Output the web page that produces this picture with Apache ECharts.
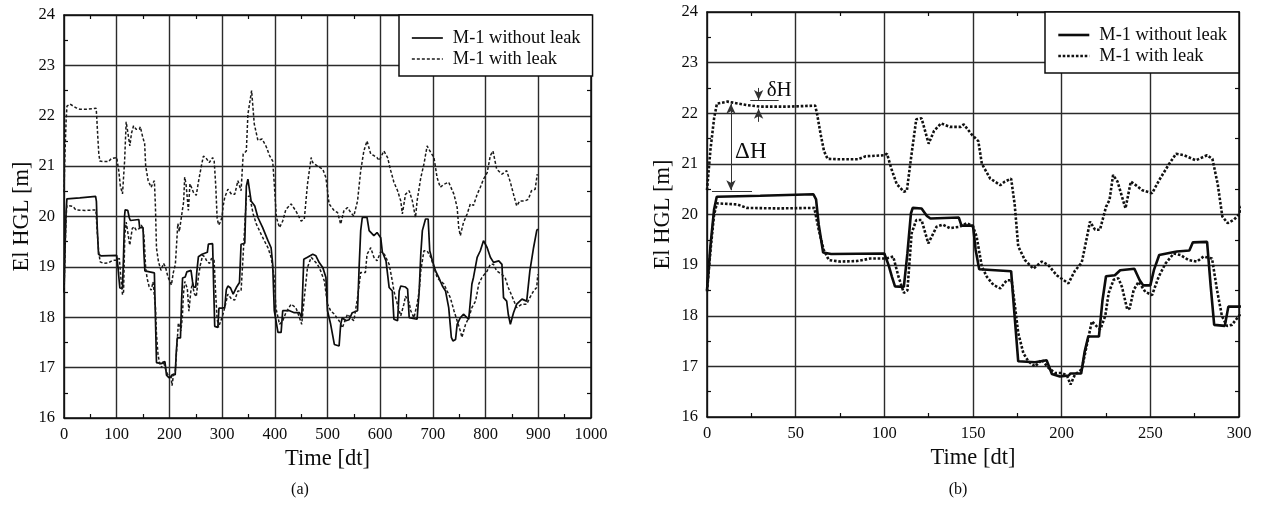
<!DOCTYPE html>
<html><head><meta charset="utf-8">
<script src="https://cdn.jsdelivr.net/npm/echarts@6/dist/echarts.min.js"></script>
<style>html,body{margin:0;padding:0;background:#fff}#c{width:1264px;height:506px}</style>
</head><body><div id="c"></div>
<script>
// ---- tick labels ----
const yTicks = [16, 17, 18, 19, 20, 21, 22, 23, 24];
const xTicksA = [0, 100, 200, 300, 400, 500, 600, 700, 800, 900, 1000];
const xTicksB = [0, 50, 100, 150, 200, 250, 300];
const seriesNames = ['M-1 without leak', 'M-1 with leak'];
const panelLabels = ['(a)', '(b)'];

// ---- M-1 without leak (solid) ----
const noLeakT = [0,2,4,5.5,30,60,61.5,63,65.5,70,100,102.4,104.3,106,111,113,115,116,121,124,126,142,143.5,150,151.5,153.5,171.5,173,175.5,185,191.5,194.5,199,204,205,211,213,215,221,223,225,230,233,241,244,246,250,252,255,262,265,272,274,282,284,286,292,294,300,
305,308,311,316,321,327,333,336,343,346,349,352,355,362,368,377,387,393,396,399,406,412,415,421,428,437,447,451,455,462,472,478,484,491,497,500,506,513,522,525,528,535,541,547,557,560,563,566,575,579,588,594,601,604,611,617,623,626,633,636,639,648,652,655,670,674,677,680,686,691,694,699,705,711,718,724,730,735,738,743,746,752,758,768,771,774,777,784,790,796,803,809,815,825,831,834,840,843,847,850,853,859,869,878,884,891,897,899];
const noLeakV = [18.5,19.4,20.1,20.35,20.37,20.4,20.3,19.8,19.25,19.22,19.23,19.0,18.77,18.58,18.57,19.23,20.02,20.13,20.12,19.97,19.92,19.94,19.78,19.78,19.3,18.92,18.88,18.2,17.1,17.08,17.12,16.85,16.8,16.82,16.86,16.86,17.3,17.59,17.59,18.3,18.78,18.8,18.9,18.93,18.7,18.6,18.6,18.9,19.2,19.25,19.27,19.29,19.45,19.46,18.6,17.82,17.8,18.18,18.18,
18.19,18.55,18.62,18.58,18.46,18.59,18.69,19.45,19.47,20.6,20.74,20.74,20.31,20.21,19.98,19.78,19.52,19.38,19.05,18.13,17.7,17.7,18.13,18.13,18.13,18.09,18.09,17.99,19.15,19.19,19.25,19.22,19.09,18.99,18.79,18.13,17.86,17.46,17.43,17.86,17.99,17.93,17.95,18.09,18.13,18.99,19.72,19.98,19.98,19.72,19.62,19.68,19.58,19.3,19.12,18.59,18.52,17.96,17.93,18.52,18.62,18.6,18.56,17.99,17.96,18.52,19.25,19.72,19.95,19.95,19.32,19.12,18.92,18.79,18.62,18.52,18.19,17.6,17.53,17.56,17.86,17.99,18.06,17.96,17.95,18.66,18.79,19.19,19.32,19.52,19.38,19.19,19.09,19.12,19.05,18.39,18.32,18.06,17.86,17.86,18.09,18.26,18.36,18.32,18.92,19.38,19.72,19.75];

// ---- M-1 with leak, lower curve (dotted) ----
const leakLowT = [0,2,4,5.6,17,22.5,40,60.5,63,65.8,68.7,75,84.5,92,101,105,108,111,113,115.4,118,121,124.8,129.5,133,137,142.7,146.5,150,152,155,157.8,161.5,165.4,169,171.8,173.7,175.5,178.4,181.2,185,188.8,192.6,196.3,200,203,205,207.5,211.3,214,217,219.8,221.8,224.6,226.5,229.3,232,234,237,238.4,240.6,243.4,247.2,251,254.7,258.5,263.2,267,271.6,276.3,280,284.8,287.6,290.4,293.2,296,300,
305,311,318,324,330,336,340,346,352,359,365,374,380,387,393,399,402,409,415,421,431,440,447,451,456,462,469,475,481,487,494,500,506,513,522,528,538,544,550,557,563,572,575,582,588,594,601,608,611,617,623,626,636,639,645,648,655,658,664,670,674,677,683,689,696,702,708,714,721,727,733,740,746,752,755,762,768,774,781,787,793,803,809,815,821,831,837,843,850,859,869,878,884,891,897,899];
const leakLowV = [18.48,19.3,20.0,20.22,20.2,20.13,20.12,20.13,19.7,19.3,19.1,19.07,19.08,19.13,19.13,19.17,18.77,18.45,18.5,19.63,19.89,19.89,19.43,19.76,19.8,19.73,19.76,19.83,19.76,19.57,18.97,18.77,18.61,18.54,18.7,18.7,18.18,17.66,17.26,17.1,17.0,17.13,16.97,16.87,16.87,16.82,16.64,16.84,16.94,17.39,17.89,17.79,17.73,18.0,18.45,18.71,18.74,18.57,18.12,18.15,18.51,18.67,18.47,18.41,18.77,19.03,19.23,19.2,19.1,19.07,19.17,19.13,18.51,17.99,17.8,17.82,18.0,
18.19,18.46,18.36,18.34,18.52,18.52,19.25,20.38,20.41,20.05,19.85,19.65,19.52,19.38,19.19,18.79,18.19,17.86,17.93,18.09,18.26,18.19,17.99,17.86,18.39,18.99,19.19,19.12,19.05,18.92,18.72,18.26,18.13,18.06,17.93,17.79,18.06,17.99,17.93,18.39,18.89,18.89,19.25,19.38,19.19,19.12,19.3,19.25,19.25,19.05,18.72,18.52,18.13,18.03,18.26,18.42,18.29,18.13,17.99,18.26,18.52,18.92,19.32,19.32,19.19,18.99,18.79,18.72,18.66,18.52,18.39,18.13,17.93,17.73,17.6,17.86,17.99,18.19,18.32,18.66,18.79,18.92,19.05,19.05,18.92,18.85,18.79,18.59,18.42,18.19,18.26,18.26,18.39,18.52,18.59,18.85];

// ---- M-1 with leak, upper curve (dotted) ----
const leakHighT = [0,2,4,5.6,11.6,22.5,30,45,61,62,64,66,68,75,85,89.5,100,101.5,104,107,111,112.7,115,118,121,125,128,132,137,143,144.8,149.5,153,155,159.7,165.4,168,171.5,173.5,175.5,179.3,184,188.8,192.5,197.2,203.8,207.5,211.3,213.2,216,218.8,221.6,225,227,229,231.5,236,239,241.8,245.5,251,255,260.6,264.5,269,275.6,282,285,288,290.6,293.6,297.2,300,
302,305,311,318,324,330,336,340,346,349,356,361,368,376,384,390,396,399,403,409,415,421,431,440,450,456,462,469,472,481,491,497,503,513,519,525,531,538,544,550,557,563,569,575,582,588,594,598,607,614,620,626,633,639,642,648,655,661,667,670,677,683,689,696,702,708,714,721,730,740,746,749,752,758,765,771,777,784,790,796,803,809,814,821,831,840,847,853,859,865,875,881,887,894,898];
const leakHighV = [20.48,21.3,21.9,22.19,22.23,22.16,22.13,22.13,22.15,22.0,21.6,21.25,21.1,21.09,21.09,21.15,21.17,21.2,20.9,20.6,20.45,20.47,21.1,21.88,21.9,21.4,21.65,21.8,21.73,21.73,21.78,21.57,21.45,21.0,20.71,20.58,20.65,20.71,20.2,19.37,19.1,18.93,19.07,19.0,18.8,18.64,18.89,19.05,19.37,19.86,19.7,19.7,20.15,20.29,20.78,20.65,20.12,20.65,20.58,20.48,20.42,20.68,21.0,21.2,21.17,21.07,21.17,21.1,20.6,19.96,19.83,19.9,20.0,
20.21,20.38,20.54,20.44,20.44,20.71,20.51,21.24,21.3,22.03,22.5,21.84,21.51,21.54,21.38,21.21,21.1,20.65,19.98,19.78,19.91,20.14,20.25,20.11,19.91,19.95,20.64,21.17,21.07,21.0,20.94,20.77,20.25,20.11,20.08,19.85,20.11,20.18,20.08,20.01,20.31,20.91,21.3,21.5,21.24,21.21,21.17,21.11,21.3,21.17,20.91,20.68,20.51,20.31,20.05,20.44,20.51,20.31,19.98,20.31,20.77,21.04,21.4,21.27,21.17,20.77,20.58,20.64,20.68,20.44,20.18,19.78,19.62,19.88,20.05,20.25,20.22,20.44,20.58,20.74,20.87,21.21,21.3,20.94,20.84,20.91,20.68,20.44,20.21,20.31,20.31,20.34,20.51,20.54,20.84];

// ---- annotation levels (panel b) ----
const deltaHTop = 22.19, deltaHBottom = 20.48, deltaHAt = 13.5;
const smallHLevel = 22.26, smallHAt = 29.1;

const zip = (a, b) => a.map((v, i) => [v, b[i]]);
const FONT = 'Liberation Serif';
const INK = '#0c0c0c';
const GRIDC = '#2b2b2b';
const plain = v => String(v);

function xAxisDef(grid, ticks, pos, main) {
  const n = ticks.length;
  return {
    type: 'value', gridIndex: grid, position: pos,
    min: ticks[0], max: ticks[n - 1], interval: ticks[1] - ticks[0],
    name: main ? 'Time [dt]' : '', nameLocation: 'middle', nameGap: 18,
    nameTextStyle: {fontFamily: FONT, fontSize: 22.5, color: INK},
    axisLine: {show: true, onZero: false, lineStyle: {color: INK, width: 1.5}},
    axisTick: {show: false, inside: true},
    minorTick: {show: true, splitNumber: 2, length: 4, lineStyle: {color: INK, width: 1.2}},
    axisLabel: {show: main, margin: 8, fontFamily: FONT, fontSize: 16.5, color: INK, formatter: plain},
    splitLine: {show: main, lineStyle: {color: GRIDC, width: 1.4}}
  };
}
function yAxisDef(grid, pos, main, gap) {
  return {
    type: 'value', gridIndex: grid, position: pos,
    min: yTicks[0], max: yTicks[yTicks.length - 1], interval: yTicks[1] - yTicks[0],
    name: main ? 'El HGL [m]' : '', nameLocation: 'middle', nameGap: gap,
    nameTextStyle: {fontFamily: FONT, fontSize: 22.5, color: INK},
    axisLine: {show: true, onZero: false, lineStyle: {color: INK, width: 1.5}},
    axisTick: {show: false, inside: true},
    minorTick: {show: true, splitNumber: 2, length: 4, lineStyle: {color: INK, width: 1.2}},
    axisLabel: {show: main, margin: 9, fontFamily: FONT, fontSize: 16.5, color: INK, formatter: plain},
    splitLine: {show: main, lineStyle: {color: GRIDC, width: 1.4}}
  };
}

const dashA = {color: '#1a1a1a', width: 1.5, type: [3, 2]};
const dotB = {color: '#111', width: 2.6, type: [2.6, 1.8]};
const solidA = {color: INK, width: 1.7};
const solidB = {color: INK, width: 2.6};
const hiddenMark = {opacity: 0, color: 'rgba(0,0,0,0)', borderWidth: 0};

function legendDef(left, top, ls) {
  return {
    orient: 'vertical', left: left, top: top,
    padding: [14, 12, 8, 12], itemGap: 3, itemWidth: 31, itemHeight: 14,
    borderColor: INK, borderWidth: 1.5, borderRadius: 0, backgroundColor: '#fff',
    textStyle: {fontFamily: FONT, fontSize: 18.4, color: INK, lineHeight: 18, padding: [0, 0, 0, 5]},
    itemStyle: hiddenMark,
    data: [
      {name: seriesNames[0], lineStyle: ls[0], itemStyle: hiddenMark},
      {name: seriesNames[1], lineStyle: ls[1], itemStyle: hiddenMark}
    ]
  };
}

const arrowEnd = {symbol: 'arrow', symbolSize: [7, 10]};
const option = {
  animation: false,
  backgroundColor: '#fff',
  textStyle: {fontFamily: FONT, color: INK},
  grid: [
    {left: 64, top: 15, width: 527, height: 403},
    {left: 707, top: 12, width: 532, height: 405}
  ],
  xAxis: [
    xAxisDef(0, xTicksA, 'bottom', true),
    xAxisDef(1, xTicksB, 'bottom', true),
    xAxisDef(0, xTicksA, 'top', false),
    xAxisDef(1, xTicksB, 'top', false)
  ],
  yAxis: [
    yAxisDef(0, 'left', true, 30),
    yAxisDef(1, 'left', true, 32),
    yAxisDef(0, 'right', false, 0),
    yAxisDef(1, 'right', false, 0)
  ],
  legend: [
    legendDef(399, 15, [solidA, dashA]),
    legendDef(1045, 12, [solidB, dotB])
  ],
  series: [
    {name: seriesNames[0], type: 'line', xAxisIndex: 0, yAxisIndex: 0, data: zip(noLeakT, noLeakV), symbol: 'none', itemStyle: {color: INK}, lineStyle: solidA, z: 3},
    {name: seriesNames[1], type: 'line', xAxisIndex: 0, yAxisIndex: 0, data: zip(leakLowT, leakLowV), symbol: 'none', itemStyle: {color: INK}, lineStyle: dashA},
    {name: seriesNames[1], type: 'line', xAxisIndex: 0, yAxisIndex: 0, data: zip(leakHighT, leakHighV), symbol: 'none', itemStyle: {color: INK}, lineStyle: dashA},
    {name: seriesNames[0], type: 'line', xAxisIndex: 1, yAxisIndex: 1, data: zip(noLeakT, noLeakV), symbol: 'none', itemStyle: {color: INK}, lineStyle: solidB, z: 3,
      markLine: {
        silent: true, symbol: ['none', 'none'], animation: false,
        lineStyle: {color: '#333', width: 1, type: 'solid'}, label: {show: false},
        data: [
          [{coord: [deltaHAt, deltaHTop], ...arrowEnd}, {coord: [deltaHAt, deltaHBottom], ...arrowEnd}],
          [{coord: [2.8, 20.46]}, {coord: [25.4, 20.46]}],
          [{coord: [24.4, smallHLevel]}, {coord: [40.4, smallHLevel]}],
          [{coord: [smallHAt, 22.5]}, {coord: [smallHAt, smallHLevel], ...arrowEnd}],
          [{coord: [smallHAt, 21.83]}, {coord: [smallHAt, 22.09], ...arrowEnd}]
        ]
      },
      markPoint: {
        silent: true, symbol: 'rect', symbolSize: 1, itemStyle: {color: 'rgba(0,0,0,0)'},
        label: {show: true, position: 'inside', formatter: p => p.name, fontFamily: FONT, color: INK},
        data: [
          {name: 'ΔH', coord: [24.7, 21.24], label: {fontSize: 23}},
          {name: 'δH', coord: [40.7, 22.45], label: {fontSize: 21}}
        ]
      }
    },
    {name: seriesNames[1], type: 'line', xAxisIndex: 1, yAxisIndex: 1, data: zip(leakLowT, leakLowV), symbol: 'none', itemStyle: {color: INK}, lineStyle: dotB},
    {name: seriesNames[1], type: 'line', xAxisIndex: 1, yAxisIndex: 1, data: zip(leakHighT, leakHighV), symbol: 'none', itemStyle: {color: INK}, lineStyle: dotB}
  ],
  graphic: [
    {type: 'text', x: 300, y: 490, style: {text: panelLabels[0], fontFamily: FONT, fontSize: 16, fill: INK, align: 'center', verticalAlign: 'middle'}},
    {type: 'text', x: 958, y: 490, style: {text: panelLabels[1], fontFamily: FONT, fontSize: 16, fill: INK, align: 'center', verticalAlign: 'middle'}}
  ]
};
const chart = echarts.init(document.getElementById('c'), null, {renderer: 'canvas'});
chart.setOption(option);
</script>
</body></html>
